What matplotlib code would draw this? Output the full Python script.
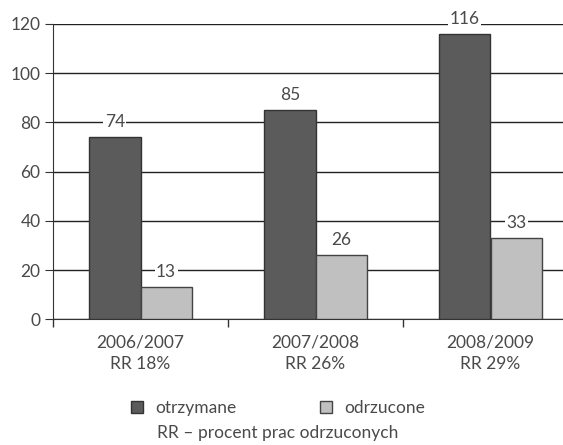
import matplotlib
matplotlib.use("Agg")
import matplotlib.pyplot as plt
from matplotlib.patches import Patch
import numpy as np

categories = ["2006/2007\nRR 18%", "2007/2008\nRR 26%", "2008/2009\nRR 29%"]
otrzymane = [74, 85, 116]
odrzucone = [13, 26, 33]
series_names = ["otrzymane", "odrzucone"]
yticks = [0, 20, 40, 60, 80, 100, 120]
note = "RR – procent prac odrzuconych"

plt.rcParams['font.family'] = ['Lato', 'DejaVu Sans']
txt = '#4a4a4a'
dark = '#5b5b5b'
light = '#c0c0c0'
fs = 12.5

fig = plt.figure(figsize=(5.63, 4.45), dpi=100)
ax = fig.add_axes([53/563, 125.7/445, 525/563, 295.3/445])

x = np.arange(len(categories))
w = 0.293
b1 = ax.bar(x - w/2, otrzymane, w, color=dark, edgecolor='#333333', linewidth=1, zorder=3)
b2 = ax.bar(x + w/2, odrzucone, w, color=light, edgecolor='#444444', linewidth=1, zorder=3)

for bars in (b1, b2):
    ax.bar_label(bars, padding=5, fontsize=fs, color=txt,
                 bbox=dict(facecolor='white', edgecolor='none', pad=1), zorder=4)

ax.set_xlim(-0.5, 2.5)
ax.set_ylim(0, 120)
ax.set_yticks(yticks)
ax.yaxis.grid(True, color='#222222', linewidth=1)
ax.set_axisbelow(True)
for s in ['top', 'right']:
    ax.spines[s].set_visible(False)
ax.spines['left'].set_color('#333333')
ax.spines['bottom'].set_color('#333333')

ax.set_xticks(x)
ax.set_xticklabels(categories, fontsize=fs, color=txt, linespacing=1.4)
ax.tick_params(axis='x', which='major', length=0, pad=11)
ax.set_xticks([-0.5, 0.5, 1.5, 2.5], minor=True)
ax.tick_params(axis='x', which='minor', length=6, color='#333333', width=1, direction='out')
ax.tick_params(axis='y', length=6, color='#333333', labelsize=fs, labelcolor=txt, pad=3)

handles = [Patch(facecolor=dark, edgecolor='#333333'), Patch(facecolor=light, edgecolor='#444444')]
fig.legend(handles, series_names, loc='center', bbox_to_anchor=(278/563, 1 - 408/445), ncol=2,
           frameon=False, handlelength=0.7, handleheight=0.7, columnspacing=4.8, handletextpad=0.7,
           prop={'size': fs}, labelcolor=txt)
fig.text(278/563, 1 - 433/445, note, ha='center', va='center', fontsize=fs, color=txt)

fig.savefig("out.png", dpi=100)
